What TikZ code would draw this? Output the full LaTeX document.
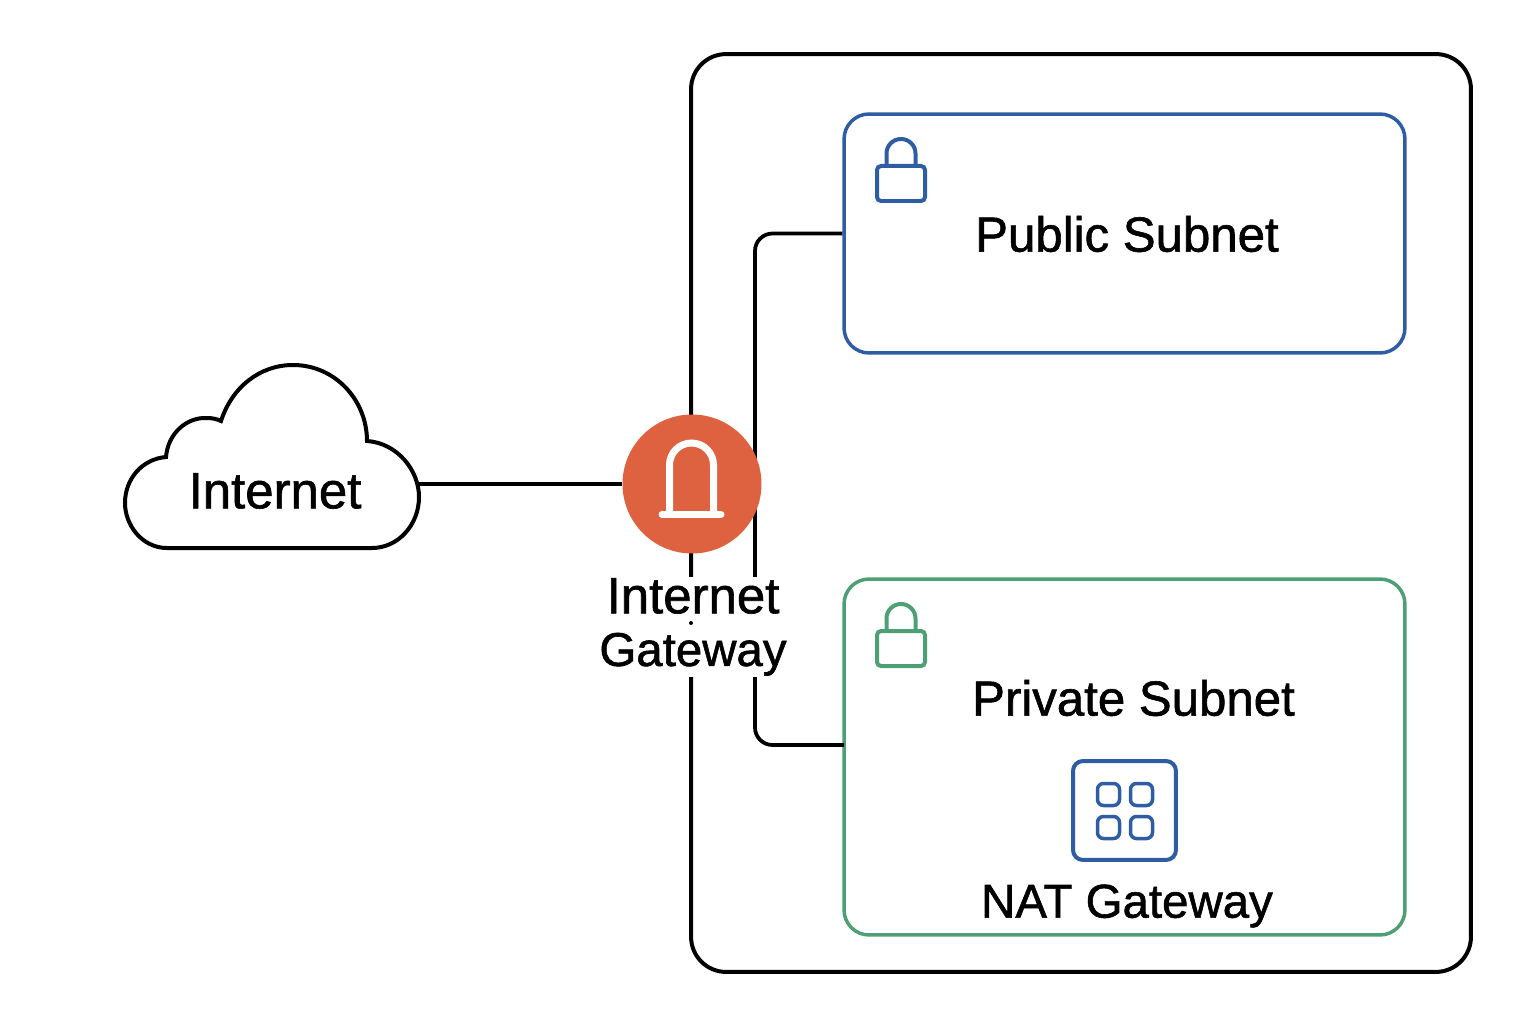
\documentclass[tikz,border=0pt]{standalone}
\usepackage{fontspec}
\setmainfont{Liberation Sans}[FakeBold=1.2]
\usetikzlibrary{calc,positioning}
\definecolor{pubblue}{HTML}{2F5DA3}
\definecolor{privgreen}{HTML}{4F9F74}
\definecolor{igworange}{HTML}{DE6240}
\tikzset{
	link/.style={black, line width=0.075cm, rounded corners=0.35cm},
	subnet/.style={rectangle, rounded corners=0.5cm, line width=0.07cm, minimum width=11.22cm},
	lbl/.style={font=\fontsize{28}{30}\selectfont, inner sep=0pt, text=black},
}
% padlock: shift of the top of the body, colour
\newcommand{\padlock}[2]{
	\begin{scope}[shift={(#1)}, draw=#2, line width=0.08cm]
		\draw[rounded corners=0.08cm] (-24,0) rectangle (24,35);
		\draw (-14.5,0)--(-14.5,-12.5) arc (180:360:14.5)--(14.5,0);
	\end{scope}
}
\begin{document}
\begin{tikzpicture}[x=0.02cm, y=-0.02cm]
	\useasboundingbox (0,0) rectangle (1536,1024);
	\coordinate (cloudE) at(419,484);
	\coordinate (bus) at(755,484);
	\coordinate (archL) at(669.5,514);
	\coordinate (archR) at(713.5,514);
	\coordinate (barL) at(662,514.5);
	\coordinate (barR) at(721,514.5);
	% the outer box
	\node[draw=black, line width=0.08cm, rounded corners=0.7cm, minimum width=15.6cm, minimum height=18.36cm] (vpc) at(1081,513) {};
	\node[subnet, draw=pubblue, minimum height=4.78cm] (pub) at(1124.5,233.5) {};
	\node[subnet, draw=privgreen, minimum height=7.12cm] (priv) at(1124.5,757) {};
	\coordinate (privW) at(844,745);
	\padlock{901,166}{pubblue}
	\padlock{901,631}{privgreen}
	% links
	\draw[link] (pub.west)-|(bus);
	\draw[link] (privW)-|(bus);
	\node[circle, fill=igworange, minimum size=2.78cm, inner sep=0pt] (igw) at(692,484) {};
	\draw[black, line width=0.075cm] (cloudE)--(igw);
	\draw[white, line width=0.14cm] (archL)--(669.5,465) arc (180:360:22)--(archR);
	\draw[white, line width=0.14cm, line cap=round] (barL)--(barR);
	% the cloud
	\draw[black, line width=0.08cm, fill=white] (167,548) .. controls (142,548) and (125,525) .. (125,503) .. controls (125,479) and (142,459) .. (166,457) .. controls (168,433) and (187,417) .. (207,418) .. controls (212,418) and (217,419) .. (221,421) .. controls (232,387) and (260,365) .. (293,365) .. controls (335,365) and (367,400) .. (367,441) .. controls (397,443) and (419,470) .. (419,497) .. controls (419,525) and (398,548) .. (372,548) -- cycle;
	\node[lbl, font=\fontsize{29}{30}\selectfont] (inet) at(275,491) {Internet};
	\node[lbl, fill=white, align=center, minimum width=3.74cm, minimum height=2cm] (igwlbl) at(693,627) {\fontsize{29}{30}\selectfont Internet\\\fontsize{27}{30}\selectfont Gateway};
	\fill[black] (691,623) circle (2);
	\node[lbl] (publbl) at(1127,234) {Public Subnet};
	\node[lbl] (privlbl) at(1133.5,698) {Private Subnet};
	% the NAT icon
	\node[draw=pubblue, line width=0.08cm, rounded corners=0.2cm, minimum width=2.06cm, minimum height=1.98cm] (nat) at(1124.5,810.5) {};
	\foreach \cx/\cy in {1108.5/794.5, 1141.5/794.5, 1108.5/827.5, 1141.5/827.5}
		\draw[pubblue, line width=0.07cm, rounded corners=0.12cm] (\cx-11,\cy-11) rectangle (\cx+11,\cy+11);
	\node[lbl, font=\fontsize{27}{30}\selectfont] (natlbl) at(1127,906) {NAT Gateway};
\end{tikzpicture}
\end{document}
